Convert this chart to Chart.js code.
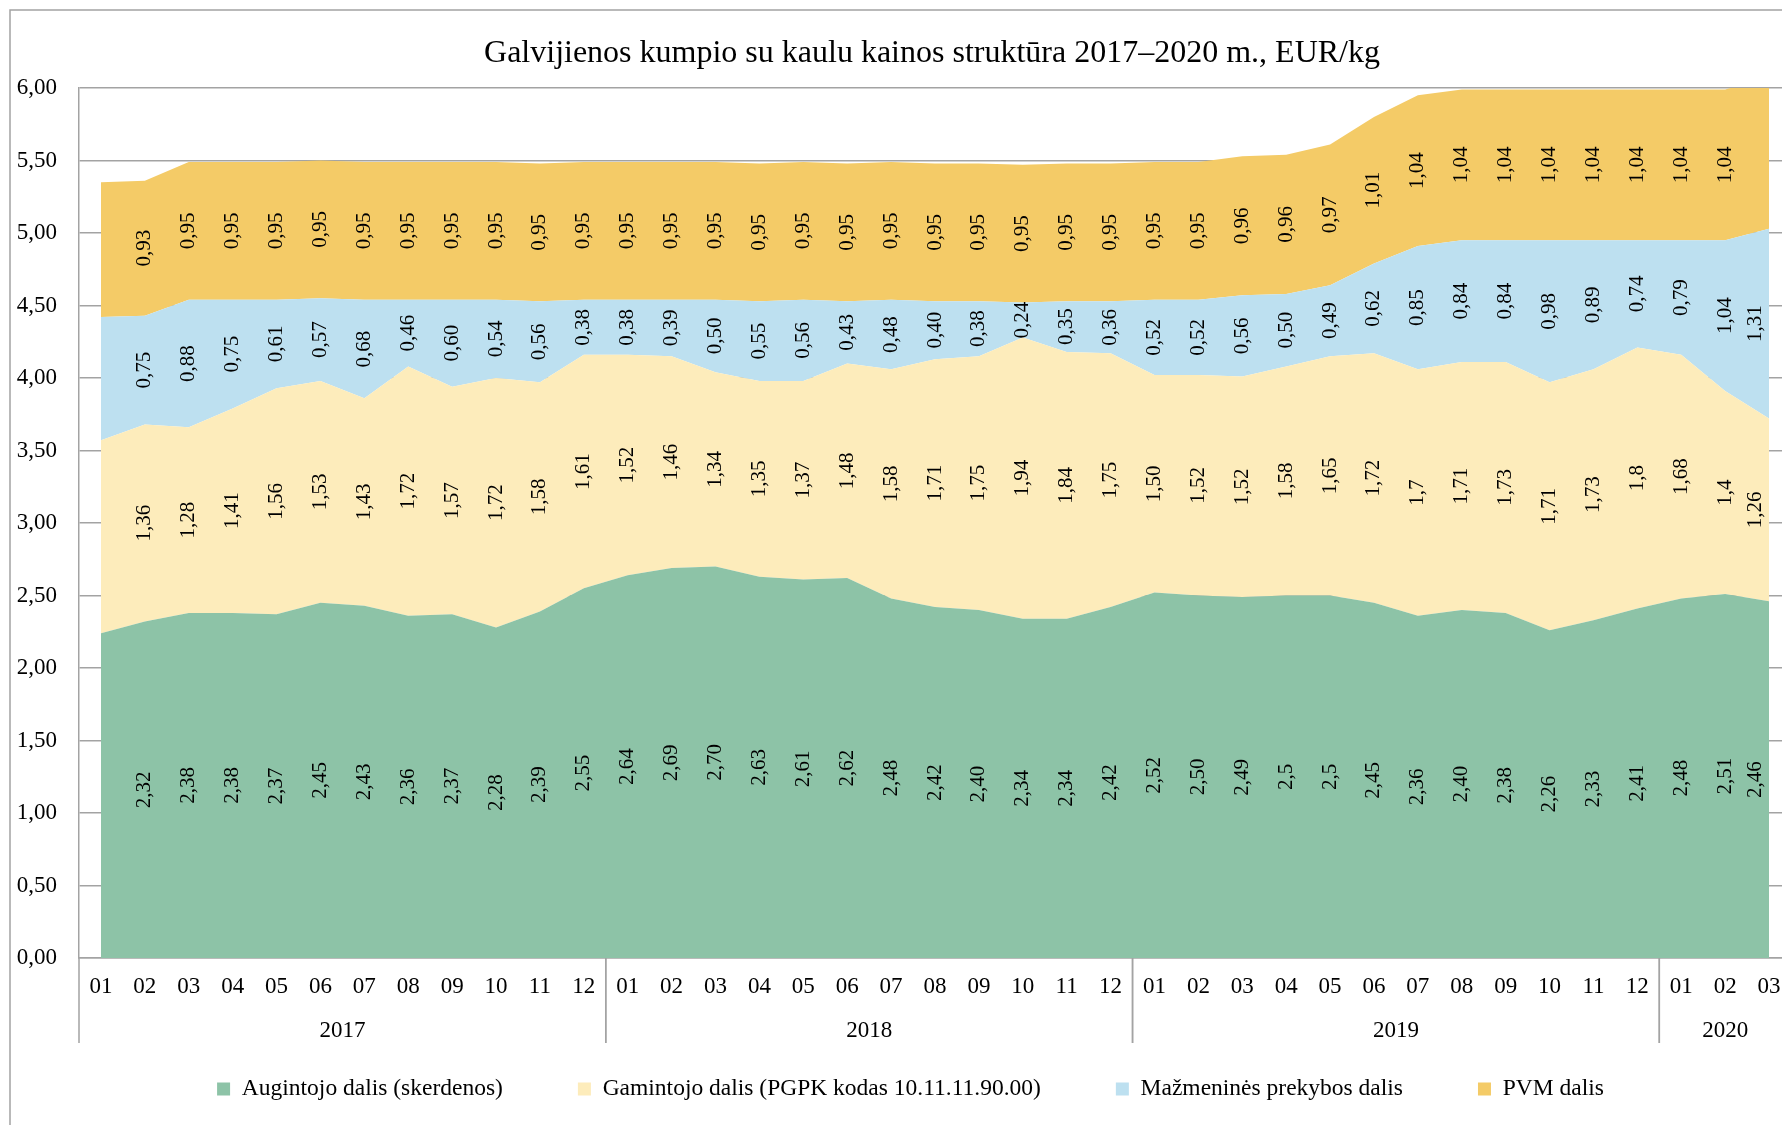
<!DOCTYPE html>
<html>
<head>
<meta charset="utf-8">
<script src="https://cdn.jsdelivr.net/npm/chart.js@4.4.1/dist/chart.umd.min.js"></script>
<style>
  html, body { margin: 0; padding: 0; background: #ffffff; overflow: hidden; width: 1782px; height: 1125px; }
  #wrap { position: relative; width: 1800px; height: 1125px; }
  canvas { display: block; }
</style>
</head>
<body>
<div id="wrap"><canvas id="c" width="1800" height="1125"></canvas></div>
<script>
// ---------------- DATA ----------------
const chartTitle = 'Galvijienos kumpio su kaulu kainos struktūra 2017–2020 m., EUR/kg';

const months = [
  '01','02','03','04','05','06','07','08','09','10','11','12',
  '01','02','03','04','05','06','07','08','09','10','11','12',
  '01','02','03','04','05','06','07','08','09','10','11','12',
  '01','02','03'
];
const years = ['2017', '2018', '2019', '2020'];
const monthsPerYear = [12, 12, 12, 3];

const seriesNames = [
  'Augintojo dalis (skerdenos)',
  'Gamintojo dalis (PGPK kodas 10.11.11.90.00)',
  'Mažmeninės prekybos dalis',
  'PVM dalis'
];

// values as printed in the data labels (first month's labels are not shown; estimated)
const farmerShare = [
  '2.24','2.32','2.38','2.38','2.37','2.45','2.43','2.36','2.37','2.28','2.39','2.55',
  '2.64','2.69','2.70','2.63','2.61','2.62','2.48','2.42','2.40','2.34','2.34','2.42',
  '2.52','2.50','2.49','2.5','2.5','2.45','2.36','2.40','2.38','2.26','2.33','2.41',
  '2.48','2.51','2.46'
];
const producerShare = [
  '1.33','1.36','1.28','1.41','1.56','1.53','1.43','1.72','1.57','1.72','1.58','1.61',
  '1.52','1.46','1.34','1.35','1.37','1.48','1.58','1.71','1.75','1.94','1.84','1.75',
  '1.50','1.52','1.52','1.58','1.65','1.72','1.7','1.71','1.73','1.71','1.73','1.8',
  '1.68','1.4','1.26'
];
const retailShare = [
  '0.85','0.75','0.88','0.75','0.61','0.57','0.68','0.46','0.60','0.54','0.56','0.38',
  '0.38','0.39','0.50','0.55','0.56','0.43','0.48','0.40','0.38','0.24','0.35','0.36',
  '0.52','0.52','0.56','0.50','0.49','0.62','0.85','0.84','0.84','0.98','0.89','0.74',
  '0.79','1.04','1.31'
];
const vatShare = [
  '0.93','0.93','0.95','0.95','0.95','0.95','0.95','0.95','0.95','0.95','0.95','0.95',
  '0.95','0.95','0.95','0.95','0.95','0.95','0.95','0.95','0.95','0.95','0.95','0.95',
  '0.95','0.95','0.96','0.96','0.97','1.01','1.04','1.04','1.04','1.04','1.04','1.04',
  '1.04','1.04','1.04'
];

const yMin = 0, yMax = 6, yStep = 0.5;

// ---------------- STYLE ----------------
const colors = ['#8DC3A7', '#FDECBB', '#BDE0F0', '#F4CB67'];
const gridColor = '#A3A3A3';
const serif = "'Liberation Serif', 'Times New Roman', serif";

const seriesValues = [farmerShare, producerShare, retailShare, vatShare];

const datasets = seriesValues.map((vals, i) => ({
  label: seriesNames[i],
  data: vals.map(Number),
  labelText: vals.map(v => v.replace('.', ',')),
  backgroundColor: colors[i],
  borderColor: colors[i],
  borderWidth: 0,
  pointRadius: 0,
  pointHoverRadius: 0,
  tension: 0,
  fill: i === 0 ? 'origin' : '-1'
}));

// outer frame + title
const framePlugin = {
  id: 'frame',
  afterLayout(chart) {
    // let the y tick labels use the space left of the axis box (avoid clipping)
    chart.scales.y.left = 0;
  },
  beforeDraw(chart) {
    const ctx = chart.ctx;
    ctx.save();
    ctx.fillStyle = '#ffffff';
    ctx.fillRect(0, 0, chart.width, chart.height);
    ctx.strokeStyle = gridColor;
    ctx.lineWidth = 1.5;
    ctx.beginPath();
    ctx.moveTo(10, chart.height);
    ctx.lineTo(10, 10);
    ctx.lineTo(chart.width, 10);
    ctx.stroke();
    ctx.fillStyle = '#000';
    ctx.font = '32px ' + serif;
    ctx.textAlign = 'center';
    ctx.textBaseline = 'alphabetic';
    ctx.fillText(chartTitle, 932, 62);
    ctx.restore();
  }
};

// year grouping row under the month labels
const yearPlugin = {
  id: 'years',
  afterDraw(chart) {
    const ctx = chart.ctx;
    const xs = chart.scales.x;
    const area = chart.chartArea;
    const half = (xs.getPixelForValue(1) - xs.getPixelForValue(0)) / 2;
    ctx.save();
    ctx.strokeStyle = gridColor;
    ctx.lineWidth = 1.5;
    ctx.fillStyle = '#000';
    ctx.font = '23px ' + serif;
    ctx.textAlign = 'center';
    ctx.textBaseline = 'alphabetic';
    let start = 0;
    years.forEach((yr, g) => {
      const n = monthsPerYear[g];
      const left = xs.getPixelForValue(start) - half;
      const right = xs.getPixelForValue(start + n - 1) + half;
      ctx.beginPath();
      ctx.moveTo(left, area.bottom);
      ctx.lineTo(left, area.bottom + 85);
      ctx.moveTo(right, area.bottom);
      ctx.lineTo(right, area.bottom + 85);
      ctx.stroke();
      ctx.fillText(yr, (left + right) / 2, area.bottom + 79);
      start += n;
    });
    ctx.restore();
  }
};

// vertical value labels centred in each stacked band
const labelPlugin = {
  id: 'bandLabels',
  afterDatasetsDraw(chart) {
    const ctx = chart.ctx;
    const ys = chart.scales.y;
    const area = chart.chartArea;
    ctx.save();
    ctx.fillStyle = '#000';
    ctx.font = '21px ' + serif;
    ctx.textAlign = 'center';
    ctx.textBaseline = 'middle';
    const cum = new Array(months.length).fill(0);
    chart.data.datasets.forEach((ds, d) => {
      const meta = chart.getDatasetMeta(d);
      const prev = d > 0 ? chart.getDatasetMeta(d - 1) : null;
      meta.data.forEach((el, i) => {
        cum[i] += ds.data[i];
        if (i === 0) return;              // first month has no labels in the source
        if (cum[i] > yMax + 1e-9) return; // point outside the axis range: label hidden
        const base = prev ? prev.data[i].y : ys.getPixelForValue(0);
        const y = (el.y + base) / 2;
        const x = Math.min(el.x, area.right - 36);
        ctx.save();
        ctx.translate(x, y);
        ctx.rotate(-Math.PI / 2);
        ctx.fillText(ds.labelText[i], 0, 0);
        ctx.restore();
      });
    });
    ctx.restore();
  }
};

new Chart(document.getElementById('c'), {
  type: 'line',
  data: { labels: months, datasets },
  options: {
    responsive: false,
    devicePixelRatio: 1,
    animation: false,
    events: [],
    layout: { padding: { left: 30, right: 9, top: 88, bottom: 14.25 } },
    scales: {
      x: {
        type: 'category',
        offset: true,
        grid: { display: false, drawTicks: false },
        border: { display: true, color: gridColor, width: 1.5 },
        ticks: {
          color: '#000',
          font: { family: serif, size: 23 },
          padding: 15,
          maxRotation: 0,
          minRotation: 0,
          autoSkip: false
        },
        afterFit(scale) { scale.height = 44.25; }
      },
      y: {
        stacked: true,
        min: yMin,
        max: yMax,
        grid: { color: gridColor, lineWidth: 1.5, drawTicks: false },
        border: { display: true, color: gridColor, width: 1.5 },
        ticks: {
          stepSize: yStep,
          color: '#000',
          font: { family: serif, size: 23 },
          padding: 22,
          callback: v => Number(v).toFixed(2).replace('.', ',')
        },
        afterFit(scale) { scale.width = 49; }
      }
    },
    plugins: {
      title: { display: false },
      tooltip: { enabled: false },
      legend: {
        display: true,
        position: 'bottom',
        labels: {
          color: '#000',
          font: { family: serif, size: 23.5 },
          boxWidth: 13,
          boxHeight: 13,
          padding: 75
        }
      }
    }
  },
  plugins: [framePlugin, yearPlugin, labelPlugin]
});
</script>
</body>
</html>
